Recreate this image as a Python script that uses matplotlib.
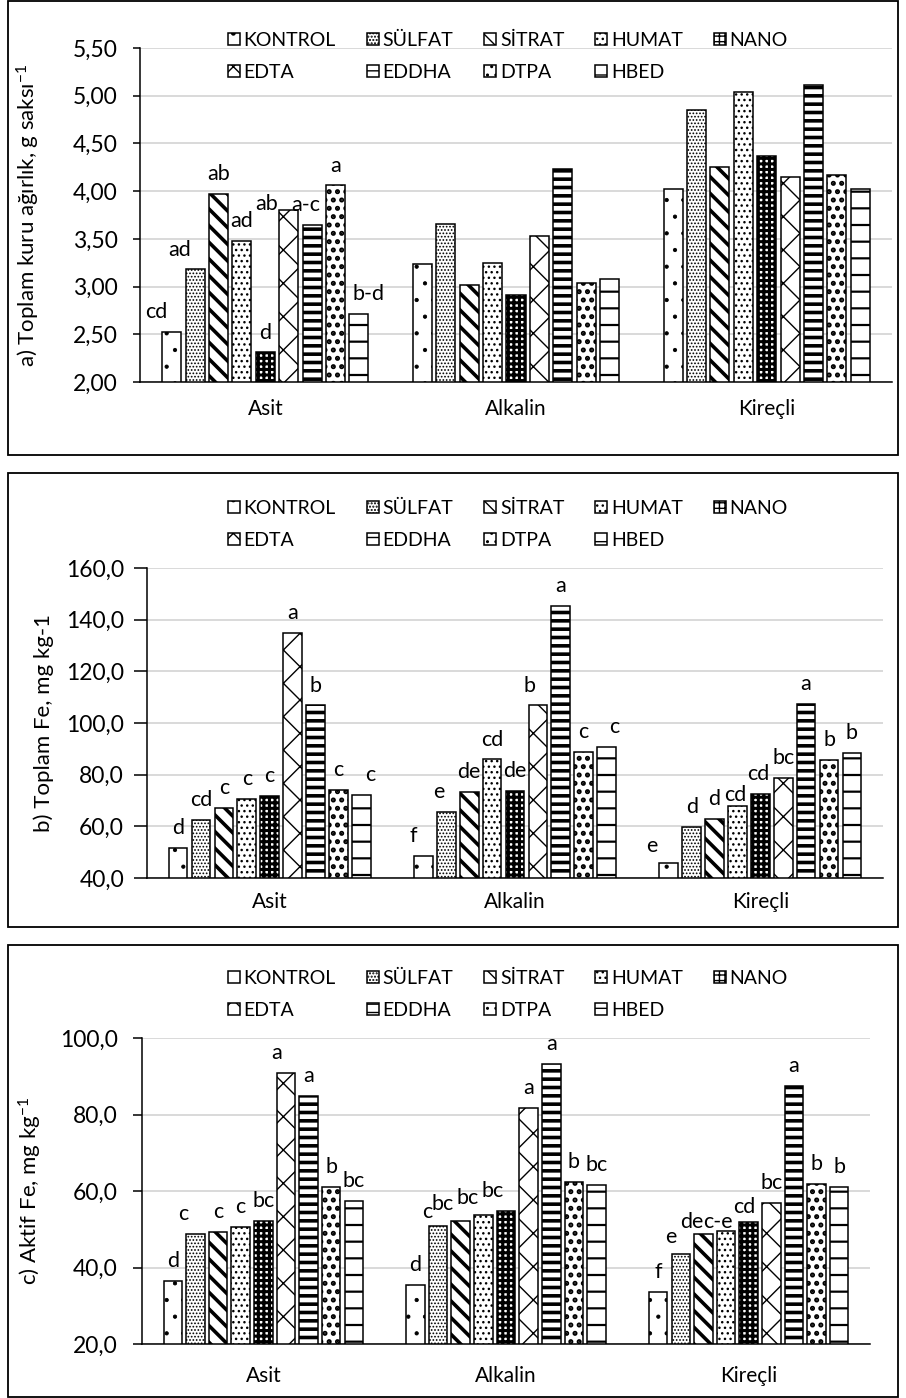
import numpy as np
import matplotlib
matplotlib.use('Agg')
import matplotlib.pyplot as plt
from matplotlib.patches import Rectangle
from matplotlib.ticker import FuncFormatter, MultipleLocator

plt.rcParams['font.family'] = ['Lato', 'DejaVu Sans']
plt.rcParams['mathtext.fontset'] = 'custom'
plt.rcParams['mathtext.rm'] = 'Lato'
plt.rcParams['mathtext.it'] = 'Lato:italic'
plt.rcParams['mathtext.default'] = 'regular'

# ---------------- data ----------------
categories = ['Asit', 'Alkalin', 'Kireçli']
treatments = ['KONTROL', 'SÜLFAT', 'SİTRAT', 'HUMAT', 'NANO', 'EDTA', 'EDDHA', 'DTPA', 'HBED']

# a) total dry weight, g pot-1
weight_asit = [2.52, 3.18, 3.97, 3.48, 2.31, 3.80, 3.65, 4.06, 2.71]
weight_alkalin = [3.24, 3.66, 3.02, 3.25, 2.91, 3.53, 4.23, 3.04, 3.08]
weight_kirecli = [4.02, 4.85, 4.25, 5.04, 4.37, 4.15, 5.11, 4.17, 4.02]
letters_weight_asit = ['cd', 'ad', 'ab', 'ad', 'd', 'ab', 'a-c', 'a', 'b-d']
letters_weight_alkalin = [''] * 9
letters_weight_kirecli = [''] * 9

# b) total Fe, mg kg-1
totfe_asit = [51.5, 62.4, 67.0, 70.6, 71.8, 134.9, 106.8, 74.2, 72.0]
totfe_alkalin = [48.5, 65.6, 73.4, 85.9, 73.7, 106.8, 145.3, 88.9, 90.8]
totfe_kirecli = [45.9, 59.8, 62.8, 68.0, 72.4, 78.6, 107.3, 85.6, 88.5]
letters_totfe_asit = ['d', 'cd', 'c', 'c', 'c', 'a', 'b', 'c', 'c']
letters_totfe_alkalin = ['f', 'e', 'de', 'cd', 'de', 'b', 'a', 'c', 'c']
letters_totfe_kirecli = ['e', 'd', 'd', 'cd', 'cd', 'bc', 'a', 'b', 'b']

# c) active Fe, mg kg-1
actfe_asit = [36.5, 48.8, 49.2, 50.5, 52.2, 90.8, 84.9, 61.1, 57.5]
actfe_alkalin = [35.5, 50.8, 52.2, 53.6, 54.8, 81.8, 93.3, 62.4, 61.6]
actfe_kirecli = [33.5, 43.5, 48.8, 49.5, 51.8, 56.8, 87.5, 61.8, 61.0]
letters_actfe_asit = ['d', 'c', 'c', 'c', 'bc', 'a', 'a', 'b', 'bc']
letters_actfe_alkalin = ['d', 'c', 'bc', 'bc', 'bc', 'a', 'a', 'b', 'bc']
letters_actfe_kirecli = ['f', 'e', 'de', 'c-e', 'cd', 'bc', 'a', 'b', 'b']

# ---------------- styles ----------------
HATCH = ['.', '.....', '\\\\', '...', '+++', 'x', '--', '..', '-']
HLW = [0.6, 0.8, 2.6, 1.0, 2.2, 1.0, 2.6, 2.4, 1.6]
PITCH = 0.0933
BW = 0.076
FS_TICK = 16.5
FS_LABEL = 16
FS_LET = 15.5
FS_CAT = 15
FS_LEG = 14
W, H = 906, 1398

# label nudges in pixels (dx, dy) keyed by (panel, category index, treatment index)
LABEL_SHIFT = {
    ('a', 0, 0): (-16, 0), ('a', 0, 1): (-16, 0), ('a', 0, 5): (-22, -14),
    ('a', 0, 6): (-6, 0), ('a', 0, 8): (10, 0),
    ('b', 0, 8): (9, 0), ('b', 1, 0): (-10, 0), ('b', 1, 1): (-8, 0),
    ('b', 1, 5): (-8, 0), ('b', 1, 8): (8, 0), ('b', 2, 0): (-17, -3),
    ('b', 2, 3): (-2, -9), ('b', 2, 4): (-2, 0),
    ('c', 0, 1): (-12, 0), ('c', 0, 5): (-9, 0),
    ('c', 1, 1): (-11, -6), ('c', 1, 2): (-18, -3), ('c', 1, 3): (-16, -2),
    ('c', 1, 4): (-13, 0),
    ('c', 2, 1): (-10, -3), ('c', 2, 2): (-12, -8), ('c', 2, 3): (-8, -11),
    ('c', 2, 4): (-4, -5),
}

fig = plt.figure(figsize=(W / 100, H / 100), dpi=100)


def fx(px):
    return px / W


def fy(py):
    return 1 - py / H


def draw_panel(pid, rect_px, values, letters, ylim, step, fmt, ylabel, label_x,
               tick_len, tick_pad, xpad, legend_top, box):
    x0, y_top, x1, y_bot = rect_px
    ax = fig.add_axes([fx(x0), fy(y_bot), fx(x1 - x0), (y_bot - y_top) / H])
    vals = np.array(values).T
    lets = np.array(letters).T
    xc = np.arange(len(categories))
    handles = []
    for i, t in enumerate(treatments):
        bars = ax.bar(xc + (i - 4) * PITCH, vals[i], width=BW, facecolor='white',
                      edgecolor='black', hatch=HATCH[i], linewidth=1.1,
                      label=t, zorder=3)
        for b in bars:
            if hasattr(b, 'set_hatch_linewidth'):
                b.set_hatch_linewidth(HLW[i])
        handles.append(bars)
        for j, b in enumerate(bars):
            if lets[i][j]:
                dx, dy = LABEL_SHIFT.get((pid, j, i), (0, 0))
                ax.annotate(lets[i][j], (b.get_x() + b.get_width() / 2, b.get_height()),
                            xytext=(dx * 0.72, 10 + dy * 0.72), textcoords='offset points',
                            ha='center', va='baseline', fontsize=FS_LET, zorder=4)
    ax.set_xlim(-0.5, len(categories) - 0.5)
    ax.set_ylim(*ylim)
    ax.yaxis.set_major_locator(MultipleLocator(step))
    ax.yaxis.set_major_formatter(FuncFormatter(lambda v, p: (fmt % v).replace('.', ',')))
    ax.set_xticks(xc)
    ax.set_xticklabels(categories, fontsize=FS_CAT)
    ax.tick_params(axis='x', length=0, pad=xpad)
    ax.tick_params(axis='y', labelsize=FS_TICK, length=tick_len, width=1.1, pad=tick_pad,
                   direction='out')
    ax.grid(axis='y', color='#d9d9d9', linewidth=1.4, zorder=0)
    ax.set_axisbelow(True)
    for s in ['top', 'right']:
        ax.spines[s].set_visible(False)
    for s in ['left', 'bottom']:
        ax.spines[s].set_linewidth(1.1)
        ax.spines[s].set_zorder(5)
    ax.set_ylabel(ylabel, fontsize=FS_LABEL)
    ax.yaxis.set_label_coords((label_x - x0) / (x1 - x0), 0.5)

    order = [0, 5, 1, 6, 2, 7, 3, 8, 4]
    ax.legend([handles[k] for k in order], [treatments[k] for k in order],
              loc='upper left', bbox_to_anchor=(fx(228), fy(legend_top)),
              bbox_transform=fig.transFigure, ncol=5, frameon=False,
              borderpad=0, borderaxespad=0, handlelength=0.6, handleheight=0.6,
              handletextpad=0.2, columnspacing=1.6, labelspacing=0.75, fontsize=FS_LEG)

    bx0, by0, bx1, by1 = box
    fig.add_artist(Rectangle((fx(bx0), fy(by1)), fx(bx1 - bx0), (by1 - by0) / H,
                             transform=fig.transFigure, fill=False,
                             edgecolor='black', linewidth=1.3))
    return ax


draw_panel('a', (140, 48, 892, 382),
           [weight_asit, weight_alkalin, weight_kirecli],
           [letters_weight_asit, letters_weight_alkalin, letters_weight_kirecli],
           (2.0, 5.5), 0.5, '%.2f', r'a) Toplam kuru ağırlık, g saksı$^{-1}$', 42,
           5, 11, 12, 32, (8, 1, 898, 455))

draw_panel('b', (147, 568, 883, 878),
           [totfe_asit, totfe_alkalin, totfe_kirecli],
           [letters_totfe_asit, letters_totfe_alkalin, letters_totfe_kirecli],
           (40, 160), 20, '%.1f', 'b) Toplam Fe, mg kg-1', 54,
           9.5, 7, 10, 500, (8, 473, 898, 927))

draw_panel('c', (142, 1038, 870, 1344),
           [actfe_asit, actfe_alkalin, actfe_kirecli],
           [letters_actfe_asit, letters_actfe_alkalin, letters_actfe_kirecli],
           (20, 100), 20, '%.1f', r'c) Aktif Fe, mg kg$^{-1}$', 44,
           6.5, 11, 16, 970, (8, 945, 898, 1397))

fig.savefig('out.png', dpi=100, facecolor='white')
